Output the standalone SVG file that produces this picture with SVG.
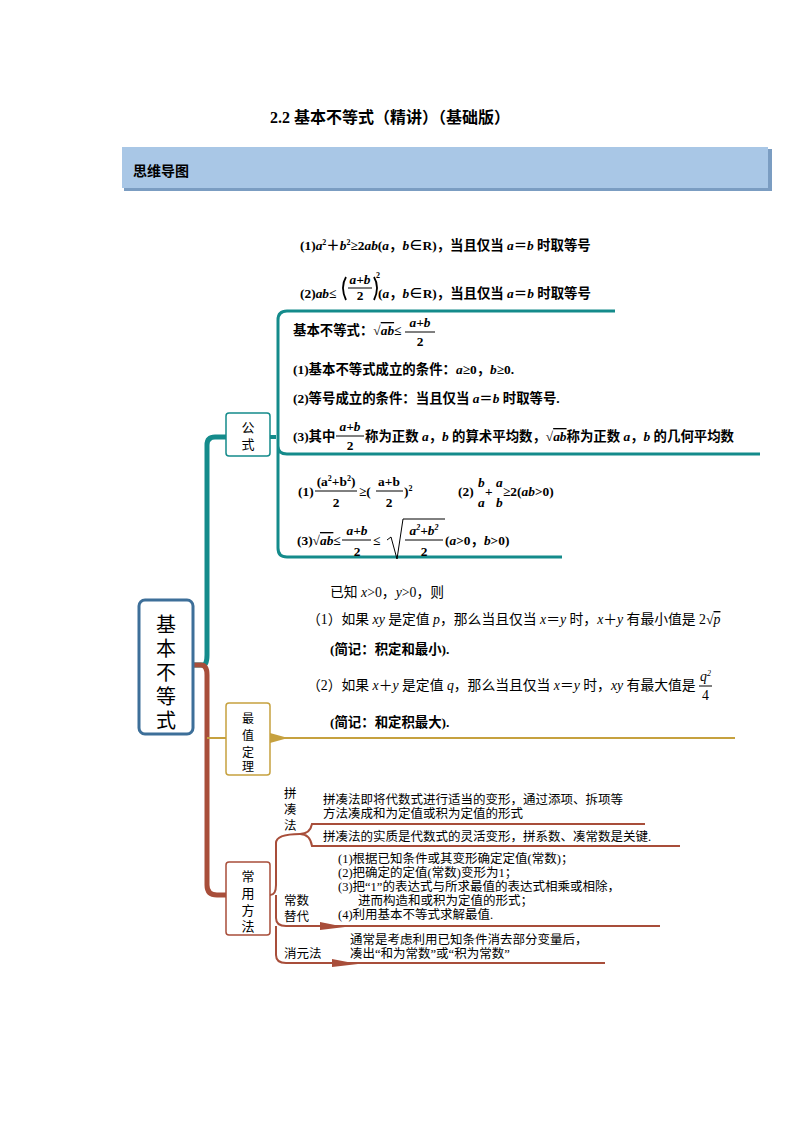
<svg xmlns="http://www.w3.org/2000/svg" width="794" height="1123" viewBox="0 0 794 1123">
<style>
text{font-family:"Liberation Serif","Noto Sans CJK SC",serif;fill:#000}
.b{font-weight:bold}
.t{font-size:13.4px;font-weight:bold}
.s{font-size:13.8px}
.i{font-style:italic}
.teal{stroke:#148b8b;fill:none}
.brn{stroke:#a84e3a;fill:none}
.gold{stroke:#c6a13f;fill:none}
</style>
<rect width="794" height="1123" fill="#fff"/>
<text x="390" y="123" text-anchor="middle" font-size="16" class="b">2.2  基本不等式（精讲）（基础版）</text>
<g id="banner">
<rect x="124" y="149" width="648" height="42" fill="#7b9dc2"/>
<rect x="122" y="147" width="646" height="41" fill="#a9c7e6"/>
<text x="133" y="176" font-size="14" class="b">思维导图</text>
</g>
<g id="connectors">
<path class="teal" stroke-width="5" d="M193 665 H203 Q207 665 207 655 V445 Q207 437 215 437 H226"/>
<path class="teal" stroke-width="4" d="M270 437 H276"/>
<path class="teal" stroke-width="3" d="M278 437 V320 Q278 311 287 311 H615 M278 437 V446 Q278 454 287 454 H760 M278 437 V548 Q278 557 287 557 H562"/>
<path class="brn" stroke-width="5" d="M193 665 H201 Q207 665 207 675 V885 Q207 895 217 895 H226"/>
<path class="gold" stroke-width="2" d="M207 738 H226 M270 738 H735"/>
<path d="M270 733 L288 738 L270 743 Z" fill="#c6a13f"/>
<path class="brn" stroke-width="2" d="M270 895 Q276 895 276 885 V843 Q276 834 300 834 Q310 834 312 824 H645 M300 834 Q310 834 312 846 H680 M276 895 V918 Q276 926 286 926 H660 M276 926 V955 Q276 963 286 963 H605"/>
<path d="M320 922 L345 927 L320 930 Z M332 959 L358 964 L332 967 Z" fill="#a84e3a"/>
</g>
<g id="main">
<rect x="139" y="600" width="54" height="134" rx="6" fill="#fff" stroke="#3d6f99" stroke-width="3"/>
<text x="166" y="632" font-size="20" text-anchor="middle" font-family="Noto Sans CJK SC,sans-serif">基</text>
<text x="166" y="656" font-size="20" text-anchor="middle" font-family="Noto Sans CJK SC,sans-serif">本</text>
<text x="166" y="680" font-size="20" text-anchor="middle" font-family="Noto Sans CJK SC,sans-serif">不</text>
<text x="166" y="704" font-size="20" text-anchor="middle" font-family="Noto Sans CJK SC,sans-serif">等</text>
<text x="166" y="728" font-size="20" text-anchor="middle" font-family="Noto Sans CJK SC,sans-serif">式</text>
</g>
<g id="gongshi">
<rect x="226" y="413" width="44" height="43" rx="3" fill="#fff" stroke="#148b8b" stroke-width="1.5"/>
<text x="248" y="432" font-size="13" text-anchor="middle">公</text>
<text x="248" y="449" font-size="13" text-anchor="middle">式</text>
</g>
<g id="zuizhi">
<rect x="226" y="703" width="44" height="72" rx="3" fill="#fff" stroke="#c6a13f" stroke-width="1.5"/>
<text x="248" y="723" font-size="12" text-anchor="middle">最</text>
<text x="248" y="740" font-size="12" text-anchor="middle">值</text>
<text x="248" y="757" font-size="12" text-anchor="middle">定</text>
<text x="248" y="771" font-size="12" text-anchor="middle">理</text>
</g>
<g id="changyong">
<rect x="226" y="862" width="44" height="73" rx="3" fill="#fff" stroke="#a84e3a" stroke-width="1.5"/>
<text x="248" y="881" font-size="13" text-anchor="middle">常</text>
<text x="248" y="898" font-size="13" text-anchor="middle">用</text>
<text x="248" y="915" font-size="13" text-anchor="middle">方</text>
<text x="248" y="931" font-size="13" text-anchor="middle">法</text>
</g>
<g id="formulas">
<text x="300" y="250" class="t">(1)<tspan class="i">a</tspan><tspan font-size="8" dy="-5">2</tspan><tspan dy="5">＋</tspan><tspan class="i">b</tspan><tspan font-size="8" dy="-5">2</tspan><tspan dy="5">≥2</tspan><tspan class="i">ab</tspan>(<tspan class="i">a</tspan>，<tspan class="i">b</tspan>∈R)，当且仅当 <tspan class="i">a</tspan>＝<tspan class="i">b</tspan> 时取等号</text>
<text x="300" y="298" class="t">(2)<tspan class="i">ab</tspan>≤</text>
<path d="M346 277 Q340 287 346 300 M374 277 Q380 287 374 300" stroke="#000" stroke-width="1.8" fill="none"/>
<text x="360" y="284" class="t i" text-anchor="middle">a+b</text>
<line x1="348" y1="288" x2="372" y2="288" stroke="#000"/>
<text x="360" y="300" class="t" text-anchor="middle">2</text>
<text x="376" y="278" font-size="8" class="b">2</text>
<text x="378" y="298" class="t">(<tspan class="i">a</tspan>，<tspan class="i">b</tspan>∈R)，当且仅当 <tspan class="i">a</tspan>＝<tspan class="i">b</tspan> 时取等号</text>

<text x="293" y="335" class="t">基本不等式：√<tspan class="i" text-decoration="overline">ab</tspan>≤</text>
<text x="420" y="327" class="t i" text-anchor="middle">a+b</text>
<line x1="405" y1="332" x2="435" y2="332" stroke="#000"/>
<text x="420" y="346" class="t" text-anchor="middle">2</text>
<text x="293" y="374" class="t">(1)基本不等式成立的条件：<tspan class="i">a</tspan>≥0，<tspan class="i">b</tspan>≥0.</text>
<text x="293" y="403" class="t">(2)等号成立的条件：当且仅当 <tspan class="i">a</tspan>＝<tspan class="i">b</tspan> 时取等号.</text>
<text x="293" y="441" class="t">(3)其中</text>
<text x="350" y="431" class="t i" text-anchor="middle">a+b</text>
<line x1="336" y1="436" x2="364" y2="436" stroke="#000"/>
<text x="350" y="450" class="t" text-anchor="middle">2</text>
<text x="365" y="441" class="t">称为正数 <tspan class="i">a</tspan>，<tspan class="i">b</tspan> 的算术平均数，√<tspan class="i" text-decoration="overline">ab</tspan>称为正数 <tspan class="i">a</tspan>，<tspan class="i">b</tspan> 的几何平均数</text>

<text x="298" y="496" class="t">(1)</text>
<text x="336" y="486" class="t" text-anchor="middle">(a<tspan font-size="8" dy="-5">2</tspan><tspan dy="5">+b</tspan><tspan font-size="8" dy="-5">2</tspan><tspan dy="5">)</tspan></text>
<line x1="315" y1="491" x2="357" y2="491" stroke="#000"/>
<text x="336" y="507" class="t" text-anchor="middle">2</text>
<text x="359" y="496" class="t">≥(</text>
<text x="389" y="486" class="t" text-anchor="middle">a+b</text>
<line x1="376" y1="491" x2="403" y2="491" stroke="#000"/>
<text x="389" y="507" class="t" text-anchor="middle">2</text>
<text x="404" y="496" class="t">)<tspan font-size="8" dy="-5">2</tspan></text>
<text x="458" y="496" class="t">(2)</text>
<text x="478" y="487" class="t i">b</text><text x="478" y="507" class="t i">a</text>
<text x="485" y="496" class="t">+</text>
<text x="496" y="487" class="t i">a</text><text x="496" y="507" class="t i">b</text>
<text x="503" y="496" class="t">≥2(<tspan class="i">ab</tspan>&gt;0)</text>
<text x="297" y="545" class="t">(3)√<tspan class="i" text-decoration="overline">ab</tspan>≤</text>
<text x="357" y="535" class="t i" text-anchor="middle">a+b</text>
<line x1="342" y1="540" x2="371" y2="540" stroke="#000"/>
<text x="357" y="556" class="t" text-anchor="middle">2</text>
<text x="373" y="545" class="t">≤</text>
<path d="M387 540 L391 537 L397 559 L403 519 H445" stroke="#000" fill="none"/>
<text x="424" y="535" class="t i" text-anchor="middle">a<tspan font-size="8" dy="-5">2</tspan><tspan dy="5">+b</tspan><tspan font-size="8" dy="-5">2</tspan></text>
<line x1="405" y1="540" x2="443" y2="540" stroke="#000"/>
<text x="424" y="556" class="t" text-anchor="middle">2</text>
<text x="445" y="545" class="t">(<tspan class="i">a</tspan>&gt;0，<tspan class="i">b</tspan>&gt;0)</text>
</g>
<g id="zuizhi-text">
<text x="330" y="597" class="s">已知 <tspan class="i">x</tspan>&gt;0，<tspan class="i">y</tspan>&gt;0，则</text>
<text x="307" y="624" class="s">（1）如果 <tspan class="i">xy</tspan> 是定值 <tspan class="i">p</tspan>，那么当且仅当 <tspan class="i">x</tspan>＝<tspan class="i">y</tspan> 时，<tspan class="i">x</tspan>＋<tspan class="i">y</tspan> 有最小值是 2√<tspan class="i" text-decoration="overline">p</tspan></text>
<text x="330" y="654" class="t">(简记：积定和最小).</text>
<text x="307" y="690" class="s">（2）如果 <tspan class="i">x</tspan>＋<tspan class="i">y</tspan> 是定值 <tspan class="i">q</tspan>，那么当且仅当 <tspan class="i">x</tspan>＝<tspan class="i">y</tspan> 时，<tspan class="i">xy</tspan> 有最大值是</text>
<text x="700" y="681" class="s i">q<tspan font-size="8" dy="-5">2</tspan></text>
<line x1="699" y1="686" x2="712" y2="686" stroke="#000"/>
<text x="702" y="700" class="s">4</text>
<text x="330" y="727" class="t">(简记：和定积最大).</text>
</g>
<g id="methods" font-size="12">
<text x="284" y="798" font-size="12.5">拼</text>
<text x="284" y="814" font-size="12.5">凑</text>
<text x="284" y="830" font-size="12.5">法</text>
<text x="323" y="804" font-size="12.5">拼凑法即将代数式进行适当的变形，通过添项、拆项等</text>
<text x="323" y="818" font-size="12.5">方法凑成和为定值或积为定值的形式</text>
<text x="323" y="841" font-size="12.5">拼凑法的实质是代数式的灵活变形，拼系数、凑常数是关键.</text>
<text x="338" y="863" font-size="12.5">(1)根据已知条件或其变形确定定值(常数)；</text>
<text x="338" y="877" font-size="12.5">(2)把确定的定值(常数)变形为1；</text>
<text x="338" y="891" font-size="12.5">(3)把“1”的表达式与所求最值的表达式相乘或相除，</text>
<text x="358" y="905" font-size="12.5">进而构造和或积为定值的形式；</text>
<text x="338" y="919" font-size="12.5">(4)利用基本不等式求解最值.</text>
<text x="284" y="905" font-size="12.5">常数</text>
<text x="284" y="921" font-size="12.5">替代</text>
<text x="350" y="944" font-size="12.5">通常是考虑利用已知条件消去部分变量后，</text>
<text x="350" y="958" font-size="12.5">凑出“和为常数”或“积为常数”</text>
<text x="284" y="958" font-size="12.5">消元法</text>
</g>
</svg>
